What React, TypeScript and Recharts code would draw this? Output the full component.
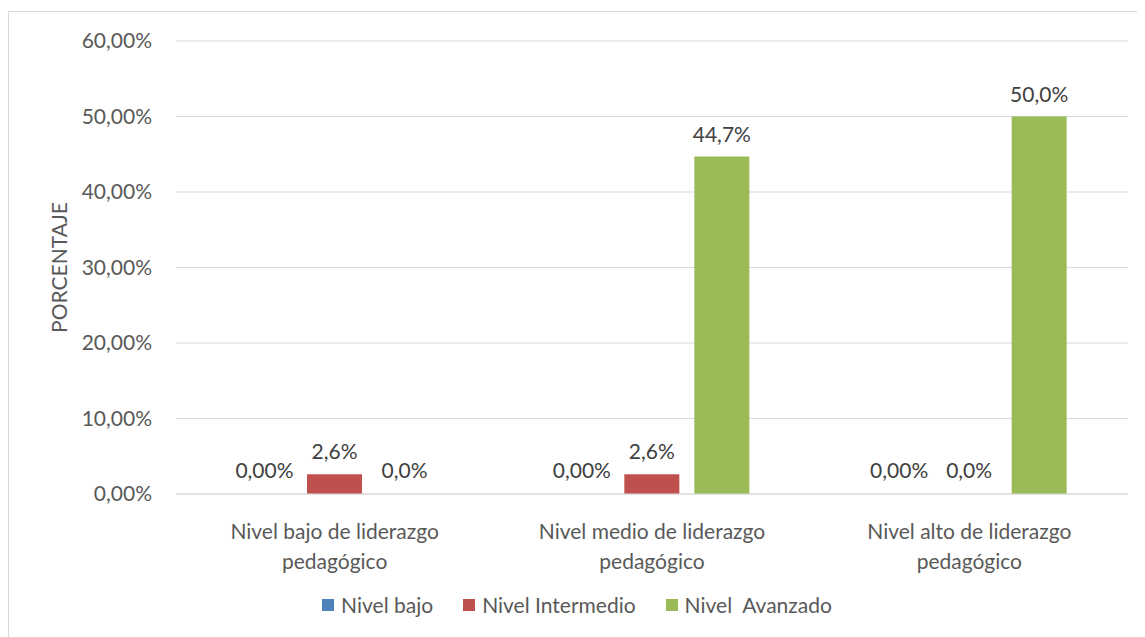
import React from 'react';
import { BarChart, Bar, XAxis, YAxis, CartesianGrid, Legend, LabelList, Rectangle } from 'recharts';

// Categorías del eje X (dos líneas por etiqueta)
const categories = [
  'Nivel bajo de liderazgo pedagógico',
  'Nivel medio de liderazgo pedagógico',
  'Nivel alto de liderazgo pedagógico',
];
const categoryLines = [
  ['Nivel bajo de liderazgo', 'pedagógico'],
  ['Nivel medio de liderazgo', 'pedagógico'],
  ['Nivel alto de liderazgo', 'pedagógico'],
];

const nivelBajo = [0, 0, 0];
const nivelIntermedio = [2.6, 2.6, 0];
const nivelAvanzado = [0, 44.7, 50];

const seriesNames = ['Nivel bajo', 'Nivel Intermedio', 'Nivel  Avanzado'];
const seriesColors = ['#4f81bd', '#c0504d', '#9bbb59'];
const yTicks = [0, 10, 20, 30, 40, 50, 60];

const data = categories.map((c, i) => ({
  name: c,
  bajo: nivelBajo[i],
  intermedio: nivelIntermedio[i],
  avanzado: nivelAvanzado[i],
}));

const FONT = 'Lato, "Open Sans", sans-serif';
const TEXT = '#595959';
const FS = 21;

const fmt2 = (v: any) => `${Number(v).toFixed(2).replace('.', ',')}%`;
const fmt1 = (v: any) => `${Number(v).toFixed(1).replace('.', ',')}%`;

// las barras en cero no se dibujan, pero su etiqueta sí
const makeShape = (key: string) => (p: any) =>
  p.payload && p.payload[key] === 0 ? <g /> : <Rectangle {...p} />;

const CategoryTick = (props: any) => {
  const { x, y, payload } = props;
  const lines = categoryLines[payload.index] || [payload.value];
  return (
    <g transform={`translate(${x},${y})`}>
      {lines.map((l, i) => (
        <text key={i} x={0} y={37 + i * 30} textAnchor="middle" fill={TEXT} fontSize={FS} fontFamily={FONT}>
          {l}
        </text>
      ))}
    </g>
  );
};

const LegendContent = () => (
  <div style={{ display: 'flex', justifyContent: 'center', gap: 30, fontFamily: FONT, fontSize: FS, color: TEXT, paddingRight: 50 }}>
    {seriesNames.map((n, i) => (
      <div key={n} style={{ display: 'flex', alignItems: 'center', whiteSpace: 'pre' }}>
        <span style={{ display: 'inline-block', width: 12, height: 12, background: seriesColors[i], marginRight: 7 }} />
        {n}
      </div>
    ))}
  </div>
);

const labelProps = { position: 'top' as const, offset: 15, fill: '#404040', fontSize: FS, fontFamily: FONT };

export default function App() {
  return (
    <div style={{ marginTop: 3, width: 1160, height: 640, border: '1px solid #d9d9d9', background: '#fff' }}>
      <BarChart
        width={1160}
        height={640}
        data={data}
        margin={{ top: 29, right: 41, left: 67, bottom: 0 }}
        barSize={55}
        barGap={15}
      >
        <CartesianGrid vertical={false} stroke="#d9d9d9" />
        <XAxis
          dataKey="name"
          tick={<CategoryTick />}
          tickLine={false}
          axisLine={{ stroke: '#d9d9d9' }}
          height={133}
          interval={0}
        />
        <YAxis
          domain={[0, 60]}
          ticks={yTicks}
          tickFormatter={fmt2}
          tickLine={false}
          axisLine={false}
          tickSize={0}
          tickMargin={24}
          width={100}
          tick={{ fill: TEXT, fontSize: FS, fontFamily: FONT }}
          label={{
            value: 'PORCENTAJE',
            angle: -90,
            position: 'insideLeft',
            offset: 0,
            dx: -16,
            style: { fill: TEXT, fontSize: FS, fontFamily: FONT, textAnchor: 'middle' },
          }}
        />
        <Legend verticalAlign="bottom" content={<LegendContent />} wrapperStyle={{ bottom: 35 }} />
        <Bar dataKey="bajo" name={seriesNames[0]} fill={seriesColors[0]} minPointSize={1} shape={makeShape('bajo')} isAnimationActive={false}>
          <LabelList dataKey="bajo" formatter={fmt2} {...labelProps} />
        </Bar>
        <Bar dataKey="intermedio" name={seriesNames[1]} fill={seriesColors[1]} minPointSize={1} shape={makeShape('intermedio')} isAnimationActive={false}>
          <LabelList dataKey="intermedio" formatter={fmt1} {...labelProps} />
        </Bar>
        <Bar dataKey="avanzado" name={seriesNames[2]} fill={seriesColors[2]} minPointSize={1} shape={makeShape('avanzado')} isAnimationActive={false}>
          <LabelList dataKey="avanzado" formatter={fmt1} {...labelProps} />
        </Bar>
      </BarChart>
    </div>
  );
}
